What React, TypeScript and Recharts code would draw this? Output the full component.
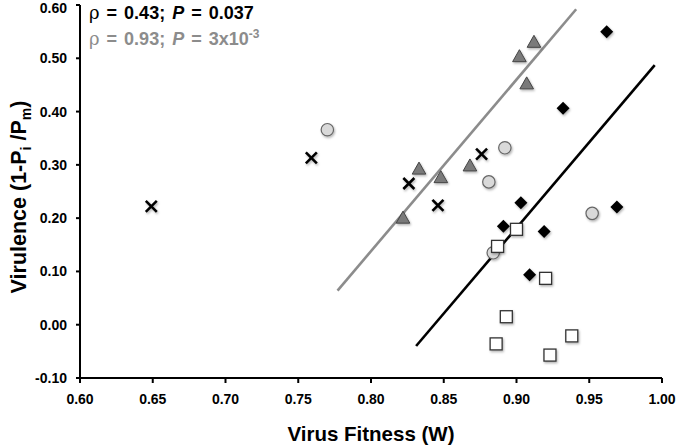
import { ScatterChart, Scatter, XAxis, YAxis, Label } from 'recharts';

const xTicks = [0.6, 0.65, 0.7, 0.75, 0.8, 0.85, 0.9, 0.95, 1.0];
const yTicks = [-0.1, 0, 0.1, 0.2, 0.3, 0.4, 0.5, 0.6];

const crossPts = [
  { x: 0.649, y: 0.222 },
  { x: 0.759, y: 0.313 },
  { x: 0.826, y: 0.265 },
  { x: 0.846, y: 0.224 },
  { x: 0.876, y: 0.32 },
];
const circlePts = [
  { x: 0.77, y: 0.366 },
  { x: 0.881, y: 0.268 },
  { x: 0.892, y: 0.332 },
  { x: 0.884, y: 0.135 },
  { x: 0.952, y: 0.209 },
];
const trianglePts = [
  { x: 0.822, y: 0.2 },
  { x: 0.833, y: 0.292 },
  { x: 0.848, y: 0.276 },
  { x: 0.868, y: 0.298 },
  { x: 0.902, y: 0.503 },
  { x: 0.912, y: 0.53 },
  { x: 0.907, y: 0.452 },
];
const diamondPts = [
  { x: 0.962, y: 0.55 },
  { x: 0.932, y: 0.406 },
  { x: 0.903, y: 0.229 },
  { x: 0.969, y: 0.221 },
  { x: 0.891, y: 0.185 },
  { x: 0.919, y: 0.175 },
  { x: 0.909, y: 0.094 },
];
const squarePts = [
  { x: 0.9, y: 0.179 },
  { x: 0.887, y: 0.147 },
  { x: 0.92, y: 0.087 },
  { x: 0.893, y: 0.015 },
  { x: 0.886, y: -0.036 },
  { x: 0.938, y: -0.021 },
  { x: 0.923, y: -0.057 },
];
const greyFit = [
  { x: 0.777, y: 0.064 },
  { x: 0.941, y: 0.592 },
];
const blackFit = [
  { x: 0.831, y: -0.04 },
  { x: 0.995, y: 0.487 },
];

const font = '"Liberation Sans", Arial, sans-serif';
const shadow = 'url(#mk-shadow)';

const Cross = ({ cx, cy }: any) => (
  <g stroke="#000" strokeWidth={2.6} filter={shadow}>
    <line x1={cx - 5.5} y1={cy - 5.5} x2={cx + 5.5} y2={cy + 5.5} />
    <line x1={cx - 5.5} y1={cy + 5.5} x2={cx + 5.5} y2={cy - 5.5} />
  </g>
);
const Circle = ({ cx, cy }: any) => (
  <circle cx={cx} cy={cy} r={6.2} fill="#d9d9d9" stroke="#666" strokeWidth={1.2} filter={shadow} />
);
const Triangle = ({ cx, cy }: any) => (
  <path
    d={`M${cx},${cy - 7} L${cx + 6.8},${cy + 5} L${cx - 6.8},${cy + 5} Z`}
    fill="#7a7a7a"
    stroke="#444"
    strokeWidth={1}
    filter={shadow}
  />
);
const Diamond = ({ cx, cy }: any) => (
  <path
    d={`M${cx},${cy - 6.5} L${cx + 6.5},${cy} L${cx},${cy + 6.5} L${cx - 6.5},${cy} Z`}
    fill="#000"
    filter={shadow}
  />
);
const Square = ({ cx, cy }: any) => (
  <rect x={cx - 6} y={cy - 6} width={12} height={12} fill="#fff" stroke="#333" strokeWidth={1.3} filter={shadow} />
);
const NoDot = () => <g />;

const YTitle = () => (
  <text
    x={0}
    y={0}
    transform="translate(26,197) rotate(-90)"
    textAnchor="middle"
    fontFamily={font}
    fontWeight="bold"
    fontSize={21.5}
    fill="#000"
  >
    Virulence (1-P
    <tspan fontSize={14} dy={5}>i</tspan>
    <tspan dy={-5}> /P</tspan>
    <tspan fontSize={14} dy={5}>m</tspan>
    <tspan dy={-5}>)</tspan>
  </text>
);

const tickStyle = { fontSize: 14, fontWeight: 'bold', fill: '#000', fontFamily: font };

export default function App() {
  return (
    <div style={{ position: 'absolute', left: 0, top: 0, width: 680, height: 447, background: '#fff' }}>
      <ScatterChart width={680} height={447} margin={{ top: 5, right: 18, bottom: 0, left: 0 }}>
        <defs>
          <filter id="mk-shadow" x="-50%" y="-50%" width="200%" height="200%">
            <feDropShadow dx="1" dy="1.5" stdDeviation="1" floodColor="#000" floodOpacity="0.3" />
          </filter>
        </defs>
        <XAxis
          type="number"
          dataKey="x"
          domain={[0.6, 1.0]}
          ticks={xTicks}
          tickFormatter={(v: number) => v.toFixed(2)}
          tick={tickStyle}
          axisLine={{ stroke: '#000', strokeWidth: 2 }}
          tickLine={{ stroke: '#000', strokeWidth: 2 }}
          tickSize={5}
          tickMargin={11}
          height={69}
          allowDataOverflow
        >
          <Label
            value="Virus Fitness (W)"
            position="insideBottom"
            offset={6}
            style={{ fontSize: 20.5, fontWeight: 'bold', fill: '#000', fontFamily: font }}
          />
        </XAxis>
        <YAxis
          type="number"
          dataKey="y"
          domain={[-0.1, 0.6]}
          ticks={yTicks}
          tickFormatter={(v: number) => v.toFixed(2)}
          tick={tickStyle}
          axisLine={{ stroke: '#000', strokeWidth: 2 }}
          tickLine={{ stroke: '#000', strokeWidth: 2 }}
          tickSize={4}
          tickMargin={9}
          width={80}
          allowDataOverflow
          label={{ content: () => <YTitle /> }}
        />
        <Scatter data={greyFit} line={{ stroke: '#8c8c8c', strokeWidth: 2.6 }} shape={NoDot} isAnimationActive={false} />
        <Scatter data={blackFit} line={{ stroke: '#000', strokeWidth: 2.6 }} shape={NoDot} isAnimationActive={false} />
        <Scatter data={crossPts} shape={Cross} isAnimationActive={false} />
        <Scatter data={circlePts} shape={Circle} isAnimationActive={false} />
        <Scatter data={trianglePts} shape={Triangle} isAnimationActive={false} />
        <Scatter data={diamondPts} shape={Diamond} isAnimationActive={false} />
        <Scatter data={squarePts} shape={Square} isAnimationActive={false} />
      </ScatterChart>
      <div
        style={{
          position: 'absolute',
          left: 89,
          top: 0,
          fontFamily: font,
          fontWeight: 'bold',
          fontSize: 18,
          lineHeight: '26px',
          wordSpacing: 2,
          whiteSpace: 'nowrap',
        }}
      >
        <div style={{ color: '#000' }}>
          <span style={{ fontWeight: 'normal', fontFamily: '"DejaVu Serif", serif' }}>ρ</span> = 0.43;{' '}
          <i>P</i> = 0.037
        </div>
        <div style={{ color: '#8c8c8c' }}>
          <span style={{ fontWeight: 'normal', fontFamily: '"DejaVu Serif", serif' }}>ρ</span> = 0.93;{' '}
          <i>P</i> = 3x10<sup style={{ fontSize: 12, verticalAlign: '7px', lineHeight: 0 }}>-3</sup>
        </div>
      </div>
    </div>
  );
}
